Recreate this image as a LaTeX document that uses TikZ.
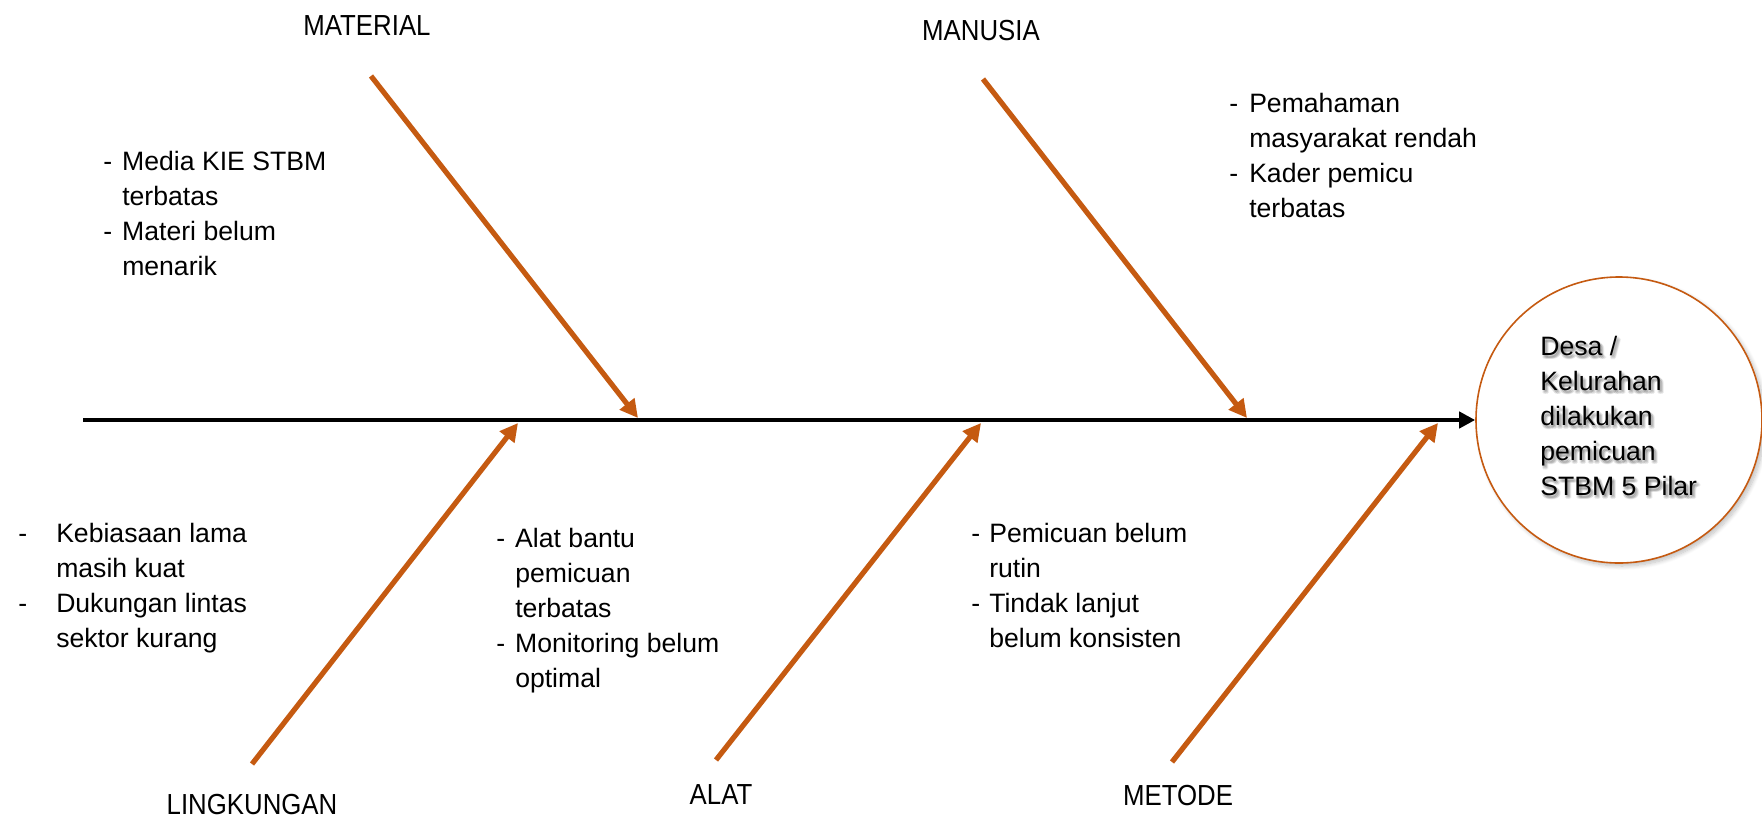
\documentclass[tikz,border=0pt]{standalone}
\usepackage{graphicx}
\usepackage{fontspec}
\setmainfont{Liberation Sans}
\usetikzlibrary{arrows.meta,shadows.blur}

\definecolor{bonecolor}{RGB}{197,90,17}
\newcommand{\itemfont}{\fontsize{13.3}{17.5}\selectfont}
\newcommand{\headfont}{\fontsize{14.5}{17}\selectfont}
\newcommand{\headtext}[1]{\scalebox{0.89}[1]{#1}}
\newcommand{\goallines}{\begin{tabular}[t]{@{}l@{}}Desa /\\Kelurahan\\dilakukan\\pemicuan\\STBM 5 Pilar\end{tabular}}

\begin{document}
\begin{tikzpicture}[x=0.5pt,y=-0.5pt,
  spine/.style={draw=black,line width=2pt,-{Triangle[length=8pt,width=8pt]}},
  bone/.style={draw=bonecolor,line width=2.6pt,-{Triangle[length=9pt,width=9pt]}},
  head/.style={anchor=base,inner sep=0pt,font=\headfont},
  causes/.style={anchor=base west,inner sep=0pt,font=\itemfont},
  goal/.style={circle,draw=bonecolor,line width=0.8pt,fill=white,
    minimum size=143pt,inner sep=0pt,
    blur shadow={shadow xshift=1.5pt,shadow yshift=-1.5pt,shadow blur steps=10,shadow opacity=25}}]
\useasboundingbox (0,0) rectangle (1762,820);

% effect
\node[goal] (effect) at (1619,420) {};
\foreach \dx/\dy in {1/2,2/3,3/4,2/1,0/3,3/2,1/4,4/3}
  \node[causes,opacity=0.07] at (1540+\dx,355+\dy) {\goallines};
\node[causes] (effecttext) at (1540,355) {\goallines};

% spine
\coordinate (tail) at (83,420);
\draw[spine] (tail) -- (effect.west);

% bones: start and tip on the spine
\coordinate (matS) at (371,76);   \coordinate (matT) at (638,418);
\coordinate (manS) at (983,79);   \coordinate (manT) at (1247,418);
\coordinate (linS) at (252,764);  \coordinate (linT) at (518,423);
\coordinate (alaS) at (716,760);  \coordinate (alaT) at (981,423);
\coordinate (metS) at (1172,762); \coordinate (metT) at (1438,423);
\draw[bone] (matS) -- (matT);
\draw[bone] (manS) -- (manT);
\draw[bone] (linS) -- (linT);
\draw[bone] (alaS) -- (alaT);
\draw[bone] (metS) -- (metT);

% category labels
\node[head] (material)   at (367,35)  {\headtext{MATERIAL}};
\node[head] (manusia)    at (981,40)  {\headtext{MANUSIA}};
\node[head] (lingkungan) at (252,814) {\headtext{LINGKUNGAN}};
\node[head] (alat)       at (721,804) {\headtext{ALAT}};
\node[head] (metode)     at (1178,805){\headtext{METODE}};

% causes
\node[causes] (matcauses) at (103,170) {\begin{tabular}[t]{@{}l@{\hspace{5pt}}l@{}}
  - & Media KIE STBM\\ & terbatas\\ - & Materi belum\\ & menarik\end{tabular}};
\node[causes] (mancauses) at (1229,112) {\begin{tabular}[t]{@{}l@{\hspace{5.5pt}}l@{}}
  - & Pemahaman\\ & masyarakat rendah\\ - & Kader pemicu\\ & terbatas\end{tabular}};
\node[causes] (lincauses) at (18,542) {\begin{tabular}[t]{@{}l@{\hspace{14.5pt}}l@{}}
  - & Kebiasaan lama\\ & masih kuat\\ - & Dukungan lintas\\ & sektor kurang\end{tabular}};
\node[causes] (alacauses) at (496,547) {\begin{tabular}[t]{@{}l@{\hspace{5pt}}l@{}}
  - & Alat bantu\\ & pemicuan\\ & terbatas\\ - & Monitoring belum\\ & optimal\end{tabular}};
\node[causes] (metcauses) at (971,542) {\begin{tabular}[t]{@{}l@{\hspace{4.5pt}}l@{}}
  - & Pemicuan belum\\ & rutin\\ - & Tindak lanjut\\ & belum konsisten\end{tabular}};
\end{tikzpicture}
\end{document}
